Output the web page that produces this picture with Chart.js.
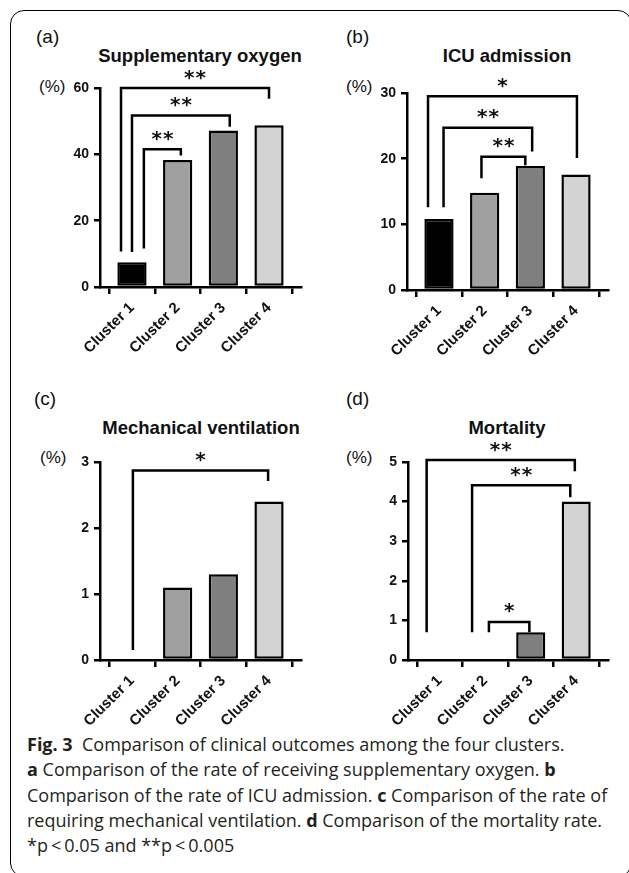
<!DOCTYPE html>
<html><head><meta charset="utf-8">
<script src="https://cdn.jsdelivr.net/npm/chart.js@4.4.0/dist/chart.umd.min.js"></script>
<style>
body{margin:0;background:#fff;width:629px;height:873px;position:relative;overflow:hidden;font-family:"Liberation Sans",Arial,sans-serif;}
.frame{position:absolute;left:10px;top:10px;width:622px;height:867px;border:1.5px solid #000;border-radius:14px;box-sizing:border-box;}
.t{position:absolute;white-space:nowrap;line-height:1;color:#111;}
.lab{font-size:19px;}
.ttl{font-size:18.5px;font-weight:bold;transform:translateX(-50%);}
.pct{font-size:17px;}
canvas{position:absolute;}
.cap{position:absolute;left:27px;top:732px;font-family:"Open Sans",sans-serif;font-size:18px;line-height:25.3px;color:#231f20;white-space:nowrap;}
</style></head><body>
<div class="frame"></div>
<div class="t lab" style="left:36px;top:27px">(a)</div>
<div class="t ttl" style="left:200px;top:47px">Supplementary oxygen</div>
<div class="t pct" style="left:39px;top:78px">(%)</div>
<div class="t lab" style="left:346px;top:27px">(b)</div>
<div class="t ttl" style="left:507px;top:47px">ICU admission</div>
<div class="t pct" style="left:346px;top:78px">(%)</div>
<div class="t lab" style="left:34px;top:389px">(c)</div>
<div class="t ttl" style="left:201px;top:419px">Mechanical ventilation</div>
<div class="t pct" style="left:40px;top:449px">(%)</div>
<div class="t lab" style="left:346px;top:389px">(d)</div>
<div class="t ttl" style="left:507px;top:419px">Mortality</div>
<div class="t pct" style="left:346px;top:449px">(%)</div>
<canvas id="ca" width="290" height="300" style="left:20px;top:60px"></canvas>
<canvas id="cb" width="290" height="300" style="left:330px;top:60px"></canvas>
<canvas id="cc" width="290" height="300" style="left:20px;top:430px"></canvas>
<canvas id="cd" width="290" height="300" style="left:330px;top:430px"></canvas>
<div class="cap"><b>Fig. 3</b>&nbsp; Comparison of clinical outcomes among the four clusters.<br><b>a</b> Comparison of the rate of receiving supplementary oxygen. <b>b</b><br>Comparison of the rate of ICU admission. <b>c</b> Comparison of the rate of<br>requiring mechanical ventilation. <b>d</b> Comparison of the mortality rate.<br>*p&thinsp;&lt;&thinsp;0.05 and **p&thinsp;&lt;&thinsp;0.005</div>
<script>
const categories = ['Cluster 1', 'Cluster 2', 'Cluster 3', 'Cluster 4'];
const supplementaryOxygen = [7.5, 38.3, 47.2, 48.8];
const icuAdmission = [10.8, 14.8, 18.9, 17.6];
const mechanicalVentilation = [0, 1.1, 1.3, 2.4];
const mortality = [0, 0, 0.7, 4.0];
const yTicksA = [0, 20, 40, 60];
const yTicksB = [0, 10, 20, 30];
const yTicksC = [0, 1, 2, 3];
const yTicksD = [0, 1, 2, 3, 4, 5];
// significance brackets: x1/x2 = cluster position, y = bracket level, y1/y2 = leg ends (data units)
const bracketsA = [
  {label: '**', x1: 1.26, x2: 2.07, y: 41.5, y1: 12.0, y2: 40.0},
  {label: '**', x1: 1.0, x2: 3.14, y: 51.7, y1: 10.9, y2: 48.7},
  {label: '**', x1: 0.76, x2: 4.0, y: 60, y1: 11.1, y2: 57.1}
];
const bracketsB = [
  {label: '**', x1: 1.93, x2: 2.89, y: 20.3, y1: 17.2, y2: 19.2},
  {label: '**', x1: 1.1, x2: 3.04, y: 24.7, y1: 12.8, y2: 21.3},
  {label: '*', x1: 0.76, x2: 4.02, y: 29.5, y1: 12.8, y2: 20.3}
];
const bracketsC = [
  {label: '*', x1: 1.02, x2: 3.98, y: 2.87, y1: 0.17, y2: 2.73}
];
const bracketsD = [
  {label: '*', x1: 2.08, x2: 2.97, y: 0.96, y1: 0.73, y2: 0.73},
  {label: '**', x1: 1.71, x2: 3.87, y: 4.41, y1: 0.73, y2: 4.14},
  {label: '**', x1: 0.71, x2: 3.97, y: 5.05, y1: 0.73, y2: 4.8}
];

const barColors = ['#000000', '#a0a0a0', '#7f7f7f', '#d3d3d3'];

const bracketPlugin = {
  id: 'brackets',
  afterDatasetsDraw(chart, args, opts) {
    const {ctx} = chart;
    const x = chart.scales.x, y = chart.scales.y;
    ctx.save();
    ctx.strokeStyle = '#000';
    ctx.lineWidth = 2.5;
    ctx.lineJoin = 'miter';
    ctx.lineCap = 'square';
    ctx.fillStyle = '#111';
    ctx.font = 'bold 20px "DejaVu Sans"';
    ctx.textAlign = 'center';
    ctx.textBaseline = 'alphabetic';
    for (const b of opts.items) {
      const xl = x.getPixelForValue(b.x1), xr = x.getPixelForValue(b.x2);
      const yt = y.getPixelForValue(b.y), yl = y.getPixelForValue(b.y1), yr = y.getPixelForValue(b.y2);
      ctx.beginPath();
      ctx.moveTo(xl, yl); ctx.lineTo(xl, yt); ctx.lineTo(xr, yt); ctx.lineTo(xr, yr);
      ctx.stroke();
      const m = ctx.measureText('*');
      const cy = yt - 13.5;
      const cx = (xl + xr) / 2;
      const n = b.label.length, gap = 11.5;
      for (let i = 0; i < n; i++) {
        ctx.fillText('*', cx + (i - (n - 1) / 2) * gap, cy + (m.actualBoundingBoxAscent - m.actualBoundingBoxDescent) / 2);
      }
    }
    ctx.restore();
  }
};

const tickFont = {family: '"Liberation Sans", Arial, sans-serif', size: 14, weight: 'bold'};

function makeChart(id, values, yTicks, brackets, dims) {
  return new Chart(document.getElementById(id), {
    type: 'bar',
    data: {
      datasets: [{
        data: values.map((v, i) => ({x: i + 1, y: v})),
        backgroundColor: barColors,
        borderColor: '#000',
        borderWidth: 2.5,
        borderSkipped: false,
        barPercentage: 0.64,
        categoryPercentage: 1
      }]
    },
    options: {
      responsive: false,
      animation: false,
      events: [],
      layout: {padding: {top: dims.top, right: dims.right, left: 0, bottom: 0}},
      plugins: {legend: {display: false}, tooltip: {enabled: false}, brackets: {items: brackets}},
      scales: {
        x: {
          type: 'linear', min: 0.3, max: 4.7, offset: false,
          afterBuildTicks: s => { s.ticks = categories.map((c, i) => ({value: i + 1})); },
          afterFit: s => { s.height = dims.xh; },
          ticks: {callback: v => categories[Math.round(v) - 1], minRotation: 45, maxRotation: 45, autoSkip: false, font: {family: tickFont.family, size: 15, weight: 'bold'}, color: '#111', padding: 5},
          grid: {drawOnChartArea: false, tickLength: 7, color: '#000', lineWidth: 2.5},
          border: {color: '#000', width: 2.5}
        },
        y: {
          min: 0, max: yTicks[yTicks.length - 1],
          afterBuildTicks: s => { s.ticks = yTicks.map(v => ({value: v})); },
          afterFit: s => { s.width = dims.yw; },
          ticks: {font: tickFont, color: '#111', padding: 5},
          grid: {drawOnChartArea: false, tickLength: 6, color: '#000', lineWidth: 2.5},
          border: {color: '#000', width: 2.5}
        }
      }
    },
    plugins: [bracketPlugin]
  });
}

makeChart('ca', supplementaryOxygen, yTicksA, bracketsA, {top: 28, right: 9, xh: 73, yw: 80});
makeChart('cb', icuAdmission, yTicksB, bracketsB, {top: 33, right: 12, xh: 70, yw: 77});
makeChart('cc', mechanicalVentilation, yTicksC, bracketsC, {top: 32, right: 9, xh: 70, yw: 80});
makeChart('cd', mortality, yTicksD, bracketsD, {top: 32, right: 12, xh: 70, yw: 78});
</script>
</body></html>
